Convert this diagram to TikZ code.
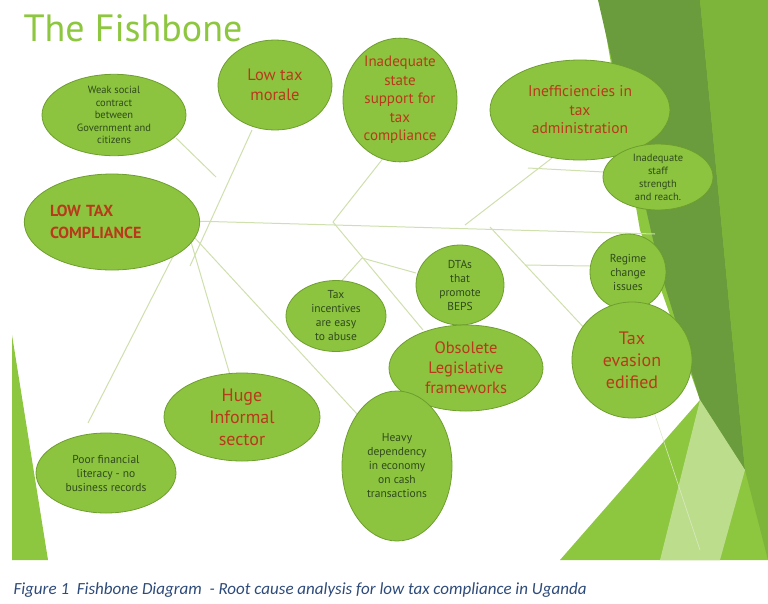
\documentclass[tikz,border=0pt]{standalone}
\usepackage{fontspec}
\setmainfont{PT Sans}
\newfontfamily\capfont{Carlito}
\usetikzlibrary{shapes.geometric}
\definecolor{fill}{HTML}{8CC43F}
\definecolor{edge}{HTML}{6E9E2E}
\definecolor{bone}{HTML}{CFE0AE}
\definecolor{redt}{HTML}{B83A1B}
\definecolor{darkt}{HTML}{2F4A1C}
\definecolor{lg}{HTML}{8DC63F}
\definecolor{dg}{HTML}{6A9B3C}
\definecolor{mg}{HTML}{7DB43A}
\definecolor{capc}{HTML}{2E4B7A}
\tikzset{
 ov/.style={ellipse,fill=fill,draw=edge,line width=0.8pt,inner sep=0pt,align=center,minimum width=2*#1},
 big/.style={text=redt,font=\fontsize{16.5}{20}\selectfont},
 sm/.style={text=darkt,font=\fontsize{11.5}{14}\selectfont},
 b/.style={draw=bone,line width=1pt}
}
\begin{document}
\begin{tikzpicture}[x=1pt,y=-1pt]
\useasboundingbox (0,0) rectangle (768,603);
\fill[white] (0,0) rectangle (768,603);
% right decorations
\fill[lg] (600,0) -- (768,0) -- (768,560) -- (560,560) -- (700,400) -- (640,230) -- cycle;
\fill[dg] (598,0) -- (700,0) -- (745,470) -- (700,400) -- (660,270) -- cycle;
\fill[mg] (700,0) -- (768,0) -- (768,560) -- (745,470) -- cycle;
\fill[lg!60] (700,400) -- (745,470) -- (720,560) -- (660,560) -- cycle;
\fill[lg] (12,335) -- (48,560) -- (12,560) -- cycle;
% title
\node[text=lg,font=\fontsize{38}{40}\selectfont,anchor=west] (title) at (20,28) {The Fishbone};
% bones
\coordinate (h) at (192,221);
\coordinate (s1) at (333,222);
\coordinate (s2) at (465,225);
\coordinate (s3) at (490,227);
\coordinate (e) at (655,234);
\draw[b] (h) -- (e);
\draw[b] (190,266) -- (252,130);
\draw[b] (176,138) -- (216,177);
\draw[b] (s1) -- (392,147);
\draw[b] (s1) -- (423,330);
\coordinate (j) at (362,258);
\draw[b] (j) -- (338,285);
\draw[b] (j) -- (416,273);
\draw[b] (s2) -- (552,158);
\draw[b] (528,168) -- (604,172);
\draw[b] (s3) -- (587,331);
\draw[b] (525,265) -- (590,266);
\draw[b] (186,231) -- (88,423);
\draw[b] (189,235) -- (230,375);
\draw[b] (194,237) -- (358,415);
\draw[bone!70,line width=0.6pt] (620,232) -- (650,400) -- (700,550);
% nodes
\node[ov=72pt,minimum height=68pt,sm,font=\fontsize{10.5}{12.5}\selectfont] (ws) at (114,115) {Weak social\\contract\\between\\Government and\\citizens};
\node[ov=57pt,minimum height=90pt,big] (ltm) at (275,85) {Low tax\\morale};
\node[ov=57pt,minimum height=108pt,big,font=\fontsize{15}{18.5}\selectfont] (iss) at (400,100) {Inadequate\\state\\support for\\tax\\compliance};
\node[ov=90pt,minimum height=100pt,big,font=\fontsize{15.5}{18.5}\selectfont] (ine) at (580,110) {Inefficiencies in\\tax\\administration};
\node[ov=55pt,minimum height=66pt,sm,font=\fontsize{10.5}{13}\selectfont] (staff) at (658,177) {Inadequate\\staff\\strength\\and reach.};
\node[ov=84pt,minimum height=96pt,big,font=\bfseries\fontsize{16}{22}\selectfont,text width=124pt,align=left] (ltc) at (112,222) {LOW TAX\\COMPLIANCE};
\node[ov=38pt,minimum height=76pt,sm] (reg) at (628,272) {Regime\\change\\issues};
\node[ov=44pt,minimum height=80pt,sm] (dta) at (460,285) {DTAs\\that\\promote\\BEPS};
\node[ov=50pt,minimum height=66pt,sm] (ti) at (336,316) {Tax\\incentives\\are easy\\to abuse};
\node[ov=77pt,minimum height=86pt,big] (obs) at (466,368) {Obsolete\\Legislative\\frameworks};
\node[ov=60pt,minimum height=116pt,big,font=\fontsize{18}{22}\selectfont] (te) at (632,360) {Tax\\evasion\\edified};
\node[ov=78pt,minimum height=88pt,big,font=\fontsize{18}{22}\selectfont] (hi) at (242,417) {Huge\\Informal\\sector};
\node[ov=55pt,minimum height=150pt,sm] (hd) at (397,466) {Heavy\\dependency\\in economy\\on cash\\transactions};
\node[ov=70pt,minimum height=80pt,sm] (pf) at (106,473) {Poor financial\\literacy - no\\business records};
% caption
\node[anchor=west,text=capc,font=\capfont\itshape\fontsize{17}{19}\selectfont] (cap) at (10,590) {Figure 1\ \ Fishbone Diagram\ \ - Root cause analysis for low tax compliance in Uganda};
\end{tikzpicture}
\end{document}
